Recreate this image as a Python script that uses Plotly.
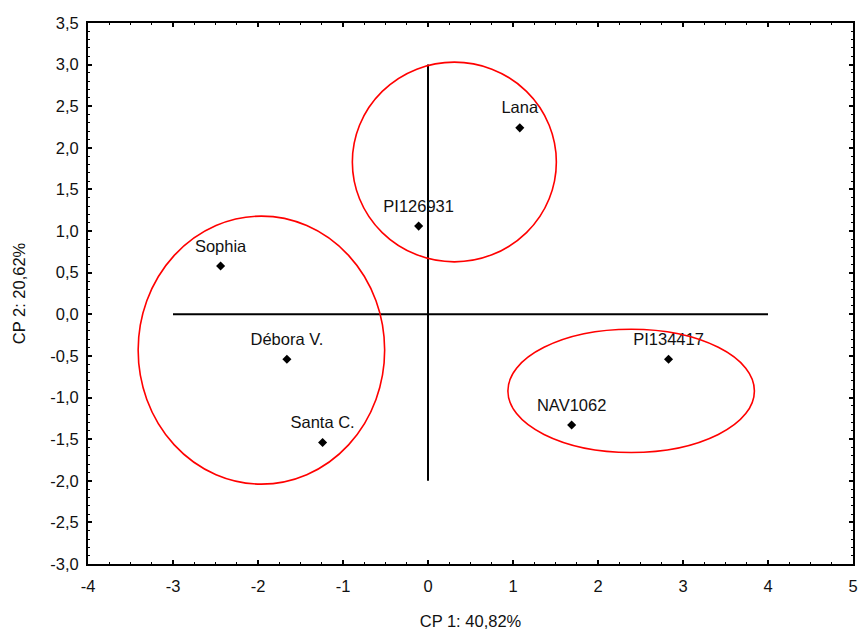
import plotly.graph_objects as go

# Data
names = ["Lana", "PI126931", "Sophia", "Débora V.", "Santa C.", "PI134417", "NAV1062"]
cp1 = [1.08, -0.11, -2.44, -1.66, -1.24, 2.83, 1.69]
cp2 = [2.24, 1.06, 0.58, -0.54, -1.54, -0.54, -1.33]

# Group ellipses (center x, center y, radius x, radius y)
ell_cx = [0.31, -1.96, 2.39]
ell_cy = [1.83, -0.43, -0.92]
ell_rx = [1.20, 1.45, 1.45]
ell_ry = [1.20, 1.61, 0.74]

# Reference axes lines
hline_x = [-3, 4]
vline_y = [-2, 3]

x_ticks = [-4, -3, -2, -1, 0, 1, 2, 3, 4, 5]
x_ticktext = ["-4", "-3", "-2", "-1", "0", "1", "2", "3", "4", "5"]
y_ticks = [3.5, 3.0, 2.5, 2.0, 1.5, 1.0, 0.5, 0.0, -0.5, -1.0, -1.5, -2.0, -2.5, -3.0]
y_ticktext = ["3,5", "3,0", "2,5", "2,0", "1,5", "1,0", "0,5", "0,0", "-0,5", "-1,0", "-1,5", "-2,0", "-2,5", "-3,0"]

FONT = "Liberation Sans, Arial, sans-serif"
FS = 16.5

fig = go.Figure()

fig.add_trace(go.Scatter(x=hline_x, y=[0, 0], mode="lines",
                         line=dict(color="black", width=2), hoverinfo="skip", showlegend=False))
fig.add_trace(go.Scatter(x=[0, 0], y=vline_y, mode="lines",
                         line=dict(color="black", width=2), hoverinfo="skip", showlegend=False))

for cx, cy, rx, ry in zip(ell_cx, ell_cy, ell_rx, ell_ry):
    fig.add_shape(type="circle", xref="x", yref="y",
                  x0=cx - rx, x1=cx + rx, y0=cy - ry, y1=cy + ry,
                  line=dict(color="#ff0000", width=1.6))

# labels (invisible larger marker to set text gap)
fig.add_trace(go.Scatter(x=cp1, y=cp2, mode="text+markers", text=names,
                         textposition="top center",
                         textfont=dict(family=FONT, size=FS, color="#111111"),
                         marker=dict(size=15, color="rgba(0,0,0,0)"),
                         hoverinfo="skip", showlegend=False))
fig.add_trace(go.Scatter(x=cp1, y=cp2, mode="markers", text=names,
                         marker=dict(symbol="diamond", size=7, color="black"),
                         showlegend=False))

axis_common = dict(showgrid=False, zeroline=False, showline=True, linecolor="black",
                   linewidth=2, mirror="ticks", ticks="inside", ticklen=4, tickwidth=1.5,
                   tickcolor="black", automargin=False, ticklabeloverflow="allow",
                   tickfont=dict(family=FONT, size=FS, color="#111111"))

fig.update_xaxes(range=[-4, 5], tickvals=x_ticks, ticktext=x_ticktext, ticklabelstandoff=6,
                 minor=dict(ticks="inside", ticklen=2, tickwidth=1.2, dtick=0.25, tickcolor="black"),
                 title=dict(text="CP 1: 40,82%", font=dict(family=FONT, size=FS, color="#111111"), standoff=22),
                 **axis_common)
fig.update_yaxes(range=[-3, 3.5], tickvals=y_ticks, ticktext=y_ticktext, ticklabelstandoff=4,
                 minor=dict(ticks="inside", ticklen=2, tickwidth=1.2, dtick=0.1, tickcolor="black"),
                 title=dict(text="CP 2: 20,62%", font=dict(family=FONT, size=FS, color="#111111"), standoff=20),
                 **axis_common)

fig.update_layout(width=860, height=633, plot_bgcolor="white", paper_bgcolor="white",
                  margin=dict(l=88, r=7, t=23, b=69, autoexpand=False), showlegend=False)

fig.write_html("out.html", config={"displayModeBar": False},
               post_script="document.body.style.margin='0';document.body.style.overflow='hidden';")
